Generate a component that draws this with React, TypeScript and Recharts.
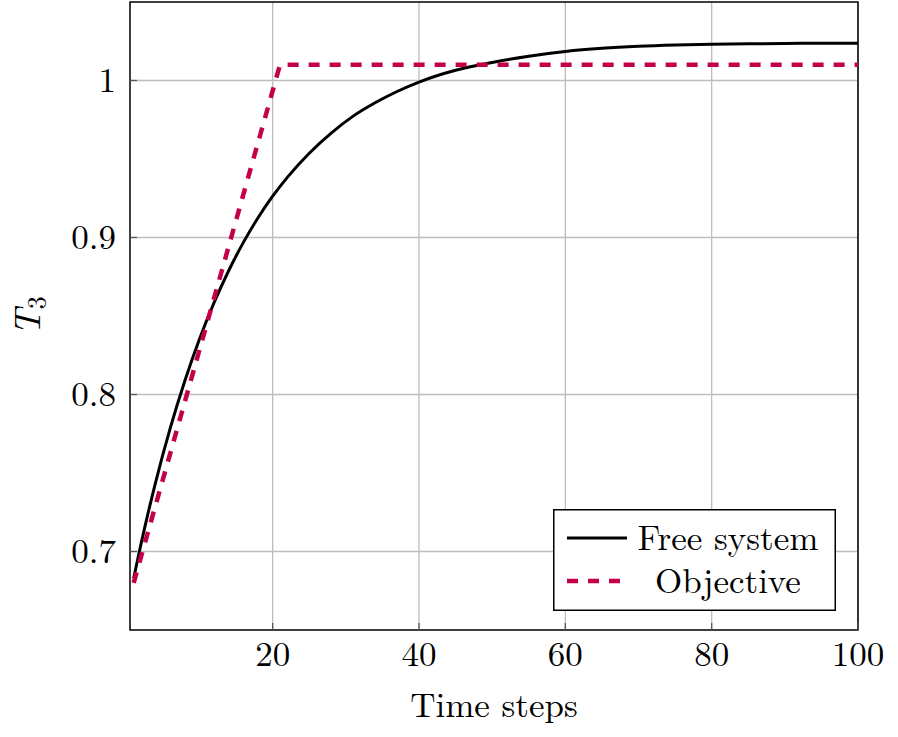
import React from 'react';
import { LineChart, Line, XAxis, YAxis, CartesianGrid, ReferenceArea, Legend } from 'recharts';

const freeSteps = [1, 2, 4, 6, 8, 10, 12, 14, 16, 18, 20, 22, 25, 28, 31, 34, 37, 40, 45, 50, 55, 60, 65, 70, 75, 80, 85, 90, 95, 100];
const freeValues = [0.683, 0.7047, 0.7441, 0.7786, 0.8088, 0.8354, 0.8586, 0.879, 0.8969, 0.9126, 0.9263, 0.9383, 0.9537, 0.9665, 0.9773, 0.9858, 0.993, 0.999, 1.0065, 1.0115, 1.0155, 1.0185, 1.0205, 1.0218, 1.0226, 1.0231, 1.0234, 1.0236, 1.0237, 1.0238];

// Objective trajectory (piecewise linear)
const objectiveSteps = [1, 21, 100];
const objectiveValues = [0.68, 1.01, 1.01];

const xTicks = [20, 40, 60, 80, 100];
const yTicks = [0.7, 0.8, 0.9, 1];
const yTickLabels = ['0.7', '0.8', '0.9', '1'];

const seriesNames = ['Free system', 'Objective'];
const xLabel = 'Time steps';

const freeData = freeSteps.map((t, i) => ({ t, v: freeValues[i] }));
const objectiveData = objectiveSteps.map((t, i) => ({ t, v: objectiveValues[i] }));

const FONT = "'Latin Modern Roman', 'CMU Serif', 'Liberation Serif', serif";
const FS = 35;
const RED = '#c4004b';

const XTick = (props: any) => {
  const { x, y, payload } = props;
  return (
    <g>
      <line x1={x} x2={x} y1={y} y2={y - 7} stroke="#555" strokeWidth={1.3} />
      <text x={x} y={y + 36} textAnchor="middle" fontFamily={FONT} fontSize={FS} fill="#000">
        {payload.value}
      </text>
    </g>
  );
};

const YTick = (props: any) => {
  const { x, y, payload } = props;
  const label = yTickLabels[yTicks.indexOf(payload.value)] ?? String(payload.value);
  return (
    <g>
      <line x1={x} x2={x + 7} y1={y} y2={y} stroke="#555" strokeWidth={1.3} />
      <text x={x - 14} y={y + 11.5} textAnchor="end" fontFamily={FONT} fontSize={FS} fill="#000">
        {label}
      </text>
    </g>
  );
};

const YLabel = (props: any) => {
  const vb = props.viewBox || { x: 0, y: 0, width: 130, height: 628 };
  const cx = vb.x + 40;
  const cy = vb.y + vb.height / 2;
  return (
    <text
      x={cx}
      y={cy}
      transform={`rotate(-90, ${cx}, ${cy})`}
      textAnchor="middle"
      fontFamily={FONT}
      fontSize={37}
      fill="#000"
    >
      <tspan fontStyle="italic">T</tspan>
      <tspan fontSize={26} dy={6}>3</tspan>
    </text>
  );
};

const LegendBox = (props: any) => {
  const payload = props.payload || [];
  return (
    <svg width={283} height={102} style={{ display: 'block' }}>
      <rect x={0.75} y={0.75} width={281.5} height={100.5} fill="#fff" stroke="#000" strokeWidth={1.5} />
      {payload.map((entry: any, i: number) => {
        const cy = 29 + i * 43;
        const dash = entry.payload && entry.payload.strokeDasharray;
        return (
          <g key={i}>
            <line
              x1={14}
              x2={dash ? 67 : 74}
              y1={cy}
              y2={cy}
              stroke={entry.color}
              strokeWidth={dash ? 4.5 : 3}
              strokeDasharray={dash}
            />
            <text x={175} y={cy + 12} textAnchor="middle" fontFamily={FONT} fontSize={FS} fill="#000">
              {entry.value}
            </text>
          </g>
        );
      })}
    </svg>
  );
};

export default function App() {
  return (
    <div style={{ position: 'absolute', left: 0, top: 0, background: '#fff' }}>
      <LineChart width={898} height={737} margin={{ top: 2, right: 40, bottom: 0, left: 0 }}>
        <CartesianGrid stroke="#bdbdbd" strokeWidth={1.3} horizontalValues={yTicks} verticalValues={xTicks} />
        <XAxis
          type="number"
          dataKey="t"
          domain={[0.5, 100]}
          ticks={xTicks}
          allowDataOverflow
          height={107}
          axisLine={false}
          tickLine={false}
          tickSize={0}
          tickMargin={0}
          tick={<XTick />}
          label={{ value: xLabel, position: 'insideBottom', offset: 20, fontFamily: FONT, fontSize: FS, fill: '#000' }}
        />
        <YAxis
          type="number"
          dataKey="v"
          domain={[0.65, 1.05]}
          ticks={yTicks}
          allowDataOverflow
          width={130}
          axisLine={false}
          tickLine={false}
          tickSize={0}
          tickMargin={0}
          tick={<YTick />}
          label={<YLabel />}
        />
        <Line
          data={freeData}
          dataKey="v"
          name={seriesNames[0]}
          type="monotone"
          stroke="#000"
          strokeWidth={3}
          dot={false}
          activeDot={false}
          isAnimationActive={false}
        />
        <Line
          data={objectiveData}
          dataKey="v"
          name={seriesNames[1]}
          type="linear"
          stroke={RED}
          strokeWidth={4.5}
          strokeDasharray="11 10"
          dot={false}
          activeDot={false}
          isAnimationActive={false}
        />
        <ReferenceArea
          x1={0.5}
          x2={100}
          y1={0.65}
          y2={1.05}
          fill="none"
          fillOpacity={0}
          stroke="#000"
          strokeWidth={1.5}
          ifOverflow="visible"
        />
        <Legend
          layout="vertical"
          align="center"
          verticalAlign="middle"
          content={<LegendBox />}
          wrapperStyle={{ position: 'absolute', left: 553, top: 509, width: 283, height: 102 }}
        />
      </LineChart>
    </div>
  );
}
